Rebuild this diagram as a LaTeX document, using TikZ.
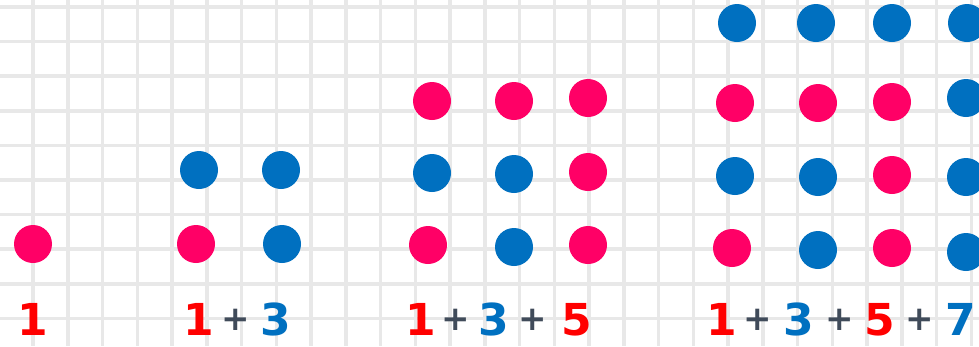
\documentclass[tikz,border=0pt]{standalone}
\usepackage{fontspec}
\setmainfont{DejaVu Sans}
\definecolor{dotpink}{HTML}{FF0066}
\definecolor{dotblue}{HTML}{0070C0}
\definecolor{numred}{HTML}{FF0000}
\definecolor{plusgray}{HTML}{404B5A}
\definecolor{gridgray}{HTML}{E8E8E8}
\begin{document}
\begin{tikzpicture}[x=1pt,y=-1pt,
  dotp/.style={circle,fill=dotpink,minimum size=38pt,inner sep=0pt},
  dotb/.style={circle,fill=dotblue,minimum size=38pt,inner sep=0pt},
  numr/.style={text=numred,font=\bfseries\fontsize{44}{44}\selectfont,inner sep=0pt,anchor=base},
  numb/.style={text=dotblue,font=\bfseries\fontsize{44}{44}\selectfont,inner sep=0pt,anchor=base},
  plus/.style={text=plusgray,font=\bfseries\fontsize{34}{34}\selectfont,inner sep=0pt},
  gridline/.style={draw=gridgray,line width=3.5pt}]
\useasboundingbox (0,0) rectangle (979,346);
\fill[white] (0,0) rectangle (979,346);
% grid
\foreach \k in {0,...,27} { \draw[gridline] ({33+34.75*\k},0) -- ({33+34.75*\k},346); }
\foreach \k in {0,...,9} { \draw[gridline] (0,{7+34.6*\k}) -- (979,{7+34.6*\k}); }
% group 1
\node[dotp] (a1) at (33,244) {};
% group 2
\node[dotb] (b1) at (199,170) {};
\node[dotb] (b2) at (281,170) {};
\node[dotp] (b3) at (196,244) {};
\node[dotb] (b4) at (282,244) {};
% group 3
\node[dotp] (c1) at (432,101) {};
\node[dotp] (c2) at (514,101) {};
\node[dotp] (c3) at (588,98) {};
\node[dotb] (c4) at (432,173) {};
\node[dotb] (c5) at (514,174) {};
\node[dotp] (c6) at (588,172) {};
\node[dotp] (c7) at (428,245) {};
\node[dotb] (c8) at (514,247) {};
\node[dotp] (c9) at (588,245) {};
% group 4
\node[dotb] (d1) at (737,23) {};
\node[dotb] (d2) at (816,23) {};
\node[dotb] (d3) at (892,23) {};
\node[dotb] (d4) at (967,23) {};
\node[dotp] (d5) at (735,103) {};
\node[dotp] (d6) at (818,103) {};
\node[dotp] (d7) at (892,102) {};
\node[dotb] (d8) at (966,98) {};
\node[dotb] (d9) at (735,176) {};
\node[dotb] (d10) at (818,177) {};
\node[dotp] (d11) at (892,175) {};
\node[dotb] (d12) at (966,177) {};
\node[dotp] (d13) at (732,248) {};
\node[dotb] (d14) at (818,250) {};
\node[dotp] (d15) at (892,248) {};
\node[dotb] (d16) at (966,252) {};
% labels
\node[numr] (l1) at (33,335) {1};
\node[numr] (m1) at (199,335) {1};
\node[plus] (m2) at (236,320) {+};
\node[numb] (m3) at (276,335) {3};
\node[numr] (n1) at (421,335) {1};
\node[plus] (n2) at (456,320) {+};
\node[numb] (n3) at (494,335) {3};
\node[plus] (n4) at (533,320) {+};
\node[numr] (n5) at (577,335) {5};
\node[numr] (p1) at (722,335) {1};
\node[plus] (p2) at (758,320) {+};
\node[numb] (p3) at (799,335) {3};
\node[plus] (p4) at (840,320) {+};
\node[numr] (p5) at (880,335) {5};
\node[plus] (p6) at (920,320) {+};
\node[numb] (p7) at (961,335) {7};
\end{tikzpicture}
\end{document}
